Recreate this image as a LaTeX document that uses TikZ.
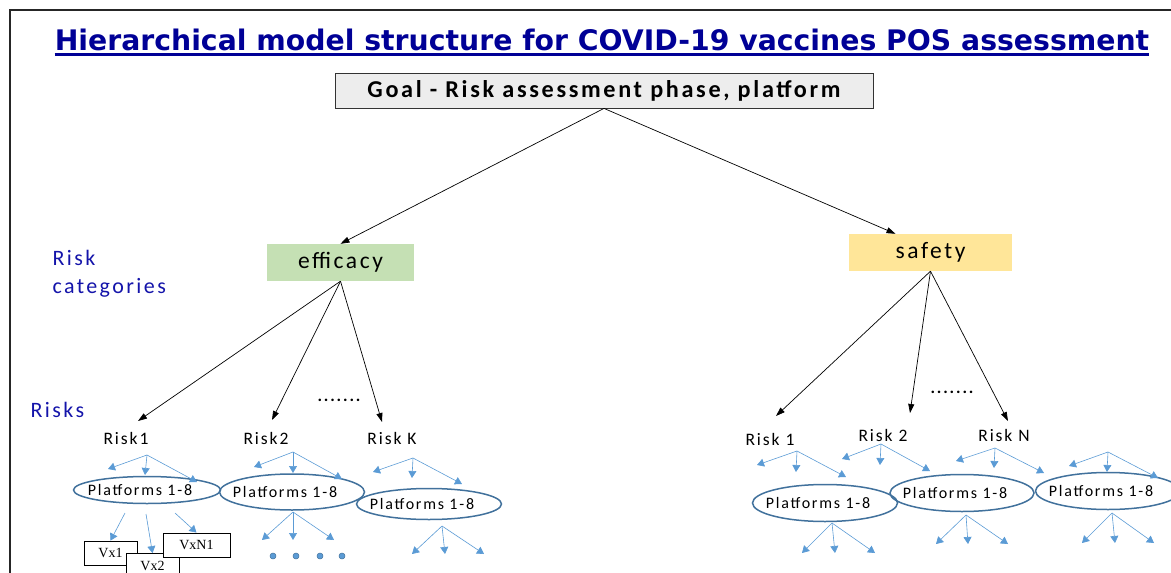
\documentclass[tikz,border=0pt]{standalone}
\usepackage{fontspec}
\setmainfont{Carlito}[LetterSpace=11]
\newfontfamily\titlefont{DejaVu Sans}
\newfontfamily\vxfont{Liberation Serif}
\usetikzlibrary{arrows.meta}
\definecolor{navy}{RGB}{0,0,150}
\definecolor{catblue}{RGB}{20,20,170}
\definecolor{fanblue}{RGB}{91,155,213}
\definecolor{ringblue}{RGB}{65,113,156}
\definecolor{effgreen}{RGB}{197,224,180}
\definecolor{safeyellow}{RGB}{255,230,153}
\begin{document}
\begin{tikzpicture}[x=1pt,y=-1pt,
    link/.style={draw=black, line width=0.7pt, -{Triangle[length=9pt,width=6pt]}},
    fan/.style={draw=fanblue, line width=0.6pt, -{Triangle[length=7pt,width=8pt]}},
    ring/.style={draw=ringblue, line width=1.5pt},
    risk/.style={font=\fontsize{17.5}{20}\selectfont},
    plat/.style={font=\fontsize{16}{18}\selectfont},
    side/.style={text=catblue, font=\fontsize{22}{28}\selectfont, align=left, anchor=west},
    vxbox/.style={draw, fill=white, line width=0.8pt, minimum width=53pt, minimum height=24pt,
        inner sep=0pt, font=\vxfont\fontsize{14}{16}\selectfont}]
    \useasboundingbox (0,0) rectangle (1171,573);
    \draw[line width=1.5pt, black!85] (10,590) -- (10,10) -- (1190,10);   % frame
    % title
    \node[inner sep=0pt, text=navy, font=\titlefont\bfseries\fontsize{28.3}{32}\selectfont] (title) at (602,40)
        {Hierarchical model structure for COVID-19 vaccines POS assessment};
    \draw[navy, line width=2.5pt] ([yshift=-4pt]title.base west) -- ([yshift=-4pt]title.base east);
    % goal and categories
    \node[draw=black!80, fill=black!7, line width=0.8pt, minimum width=538pt, minimum height=35pt,
        font=\bfseries\fontsize{24.2}{26}\selectfont] (goal) at (604,90.5) {Goal - Risk assessment phase, platform};
    \node[fill=effgreen, minimum width=147pt, minimum height=37pt, font=\fontsize{23.5}{26}\selectfont]
        (efficacy) at (340.5,262.5) {efficacy};
    \node[fill=safeyellow, minimum width=163pt, minimum height=37pt, font=\fontsize{23.5}{26}\selectfont]
        (safety) at (930.5,252.5) {safety};
    \draw[link] (goal.south) -- (efficacy.north);
    \draw[link] (goal.south) -- ([xshift=-35pt]safety.north);
    % side labels
    \node[side] (cats) at (49,274) {Risk\\categories};
    \node[side] (risks) at (27,410) {Risks};
    % risks
    \node[risk] (rk1) at (126,438) {Risk1};
    \node[risk] (rk2) at (266,438) {Risk2};
    \node[risk] (rkk) at (392,438) {Risk K};
    \node[risk] (rs1) at (770,439) {Risk 1};
    \node[risk] (rs2) at (883,435) {Risk 2};
    \node[risk] (rsn) at (1004,435) {Risk N};
    \node[font=\bfseries\fontsize{17}{18}\selectfont] (edots) at (339,400) {.......};
    \node[font=\bfseries\fontsize{17}{18}\selectfont] (sdots) at (952,392) {.......};
    \coordinate (ea) at (138,421);
    \coordinate (eb) at (272,420);
    \coordinate (ec) at (382,422);
    \coordinate (sa) at (776,416);
    \coordinate (sb) at (910,413);
    \coordinate (sc) at (1008,421);
    \foreach \t in {ea, eb, ec} \draw[link] (efficacy.south) -- (\t);
    \foreach \t in {sa, sb, sc} \draw[link] (safety.south) -- (\t);
    % platform ellipses (text centre, ellipse radii)
    \foreach \nm/\cx/\cy/\rx/\ry in {e1/140/490/73.5/13.5, e2/285/492/72.5/18, e3/422/504/72.5/15.5,
        r1/818/503/72.5/18.5, r2/955/493/72/18.5, r3/1101/491/72.5/18.5}
    {
        \node[plat] (\nm) at (\cx,\cy) {Platforms 1-8};
        \draw[ring] ([xshift=7pt]\nm.center) ellipse [x radius=\rx pt, y radius=\ry pt];
    }
    % blue fans: origin / three tips
    \foreach \nm/\org/\ta/\tb/\tc in {
        f1/{147,455}/{108,469}/{145,475}/{197,482}, f2/{293,452}/{254,467}/{293,473}/{342,479},
        f3/{413,458}/{373,472}/{412,478}/{462,484}, f4/{797,451}/{757,465}/{796,472}/{846,477},
        f5/{881,444}/{842,459}/{880,465}/{930,471}, f6/{995,448}/{956,461}/{994,468}/{1044,473},
        f7/{1108,452}/{1069,466}/{1107,472}/{1158,478},
        g2/{293,512}/{262,540}/{293,540}/{334,540}, g3/{442,526}/{412,554}/{445,554}/{484,554},
        g4/{832,523}/{802,553}/{835,553}/{875,553}, g5/{966,515}/{936,544}/{968,544}/{1008,544},
        g6/{1112,513}/{1082,543}/{1115,543}/{1154,543}}
    {
        \coordinate (\nm-o) at (\org);
        \coordinate (\nm-a) at (\ta);
        \coordinate (\nm-b) at (\tb);
        \coordinate (\nm-c) at (\tc);
        \draw[fan] (\nm-o) -- (\nm-a);
        \draw[fan] (\nm-o) -- (\nm-b);
        \draw[fan] (\nm-o) -- (\nm-c);
    }
    % vaccines under the first platform node
    \node[vxbox] (vx1) at (110.5,553) {Vx1};
    \node[vxbox] (vx2) at (152.5,565.5) {Vx2};
    \node[vxbox, minimum width=67pt] (vxn) at (196.5,545) {VxN1};
    \coordinate (p1) at (125,513);
    \coordinate (p2) at (146,514);
    \coordinate (p3) at (175,513);
    \draw[fan] (p1) -- (vx1.north);
    \draw[fan] (p2) -- (vx2.north);
    \draw[fan] (p3) -- (vxn.north);
    \foreach \x in {273, 296, 320, 342}
    {
        \fill[fanblue, draw=ringblue, line width=0.5pt] (\x,556) circle (3pt);
    }
\end{tikzpicture}
\end{document}
